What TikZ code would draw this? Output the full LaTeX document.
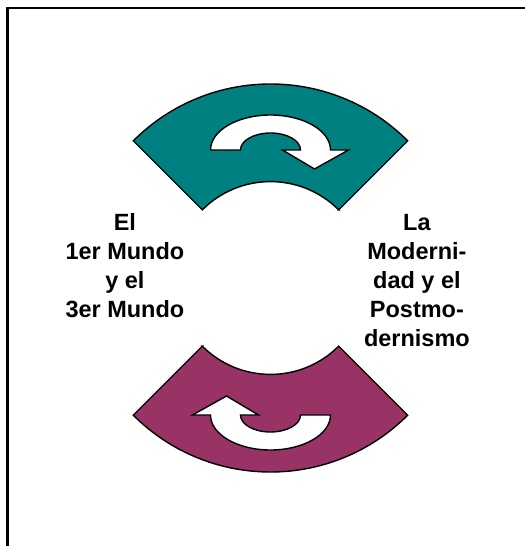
\documentclass[tikz,border=0pt]{standalone}
\usepackage{fontspec}
\setmainfont{Liberation Sans}
\usepackage{tikz}

\definecolor{cycleteal}{RGB}{0,128,128}
\definecolor{cyclepurple}{RGB}{153,51,102}

\tikzset{
  sector/.style={draw=black, line width=1pt},
  turn/.style={draw=black, fill=white, line width=1pt, line join=miter},
  sidetext/.style={font=\bfseries\fontsize{16.7}{20.6}\selectfont, align=center}
}

\begin{document}
\begin{tikzpicture}
    \useasboundingbox (-6.7625,-6.7) rectangle (6.3375,6.95);
    \draw[line width=1.5pt] (-6.575,-8) |- (8,6.75);

    % the two ring pieces
    \foreach \a/\c in {45/cycleteal, 225/cyclepurple}
    \draw[sector, fill=\c] (\a:2.41) -- (\a:4.85)
        arc[start angle=\a, end angle=\a+90, radius=4.85]
        -- (\a+90:2.41) arc[start angle=\a+90, end angle=\a, radius=2.41] -- cycle;

    % turning arrows
    \foreach \y/\r in {3.2/0, -3.425/180}
    \draw[turn, shift={(0,\y)}, rotate=\r] (-1.5,0)
        arc[start angle=180, end angle=0, x radius=1.5, y radius=0.875]
        -- (1.95,0) -- (1.1,-0.475) -- (0.3,0) -- (0.75,0)
        arc[start angle=0, end angle=180, x radius=0.75, y radius=0.425] -- cycle;

    \node[sidetext] (mundos) at (-3.64,0.3) {El\\1er Mundo\\y el\\3er Mundo};
    \node[sidetext] (modernidad) at (3.66,-0.06) {La\\Moderni-\\dad y el\\Postmo-\\dernismo};
  \end{tikzpicture}
\end{document}
